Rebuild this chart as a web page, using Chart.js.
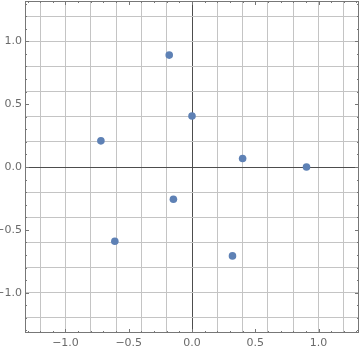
<!DOCTYPE html>
<html>
<head>
<meta charset="utf-8">
<script src="https://cdn.jsdelivr.net/npm/chart.js@4.4.1/dist/chart.umd.min.js"></script>
<style>
  html, body { margin: 0; padding: 0; background: #fff; }
  #wrap { width: 360px; height: 353px; }
</style>
</head>
<body>
<div id="wrap"><canvas id="chart"></canvas></div>
<script>
// point coordinates
const xValues = [-0.18, 0.0, -0.72, 0.40, 0.905, -0.147, -0.61, 0.32];
const yValues = [0.89, 0.405, 0.208, 0.068, 0.0, -0.256, -0.59, -0.707];
const axisMin = -1.32;
const axisMax = 1.32;
const labelValues = [-1.0, -0.5, 0.0, 0.5, 1.0];

const points = xValues.map((x, i) => ({ x: x, y: yValues[i] }));

// one tick every 0.1, grid only on every 0.2, labels on every 0.5
const tenths = [];
for (let i = -13; i <= 13; i++) tenths.push(i / 10);

const isMultiple = (v, step) => Math.abs(v / step - Math.round(v / step)) < 1e-6;
const fmt = v => v.toFixed(1).replace('-', '\u2212');

const gridColor = ctx => {
    const v = ctx.tick ? ctx.tick.value : 0;
    if (Math.abs(v) < 1e-9) return '#4d4d4d';
    if (isMultiple(v, 0.2)) return '#c4c4c4';
    return 'rgba(0,0,0,0)';
};

const scaleOpts = (isX) => ({
    type: 'linear',
    min: axisMin,
    max: axisMax,
    afterBuildTicks: scale => {
        scale.ticks = tenths.map(v => ({ value: v }));
    },
    afterFit: scale => {
        if (isX) scale.height = 20;
        else scale.width = 25;
        // no extra room for the end labels
        scale.paddingLeft = 0;
        scale.paddingRight = 0;
        scale.paddingTop = 0;
        scale.paddingBottom = 0;
    },
    border: { display: false },
    grid: {
        color: gridColor,
        lineWidth: 1,
        drawTicks: false
    },
    ticks: {
        autoSkip: false,
        maxRotation: 0,
        padding: isX ? 4 : 3,
        color: '#6a6a6a',
        font: { family: 'DejaVu Sans', size: 11 },
        callback: v => labelValues.some(l => Math.abs(l - v) < 1e-6) ? fmt(v) : ''
    }
});

// Mathematica-style frame with inward ticks
const framePlugin = {
    id: 'frame',
    afterDraw(chart) {
        const { ctx, chartArea: a, scales } = chart;
        ctx.save();
        ctx.strokeStyle = '#777';
        ctx.lineWidth = 1;
        ctx.strokeRect(a.left + 0.5, a.top + 0.5, a.right - a.left - 1, a.bottom - a.top - 1);
        ctx.beginPath();
        tenths.forEach(v => {
            const len = isMultiple(v, 0.5) ? 4 : 2;
            const px = Math.round(scales.x.getPixelForValue(v)) + 0.5;
            ctx.moveTo(px, a.bottom); ctx.lineTo(px, a.bottom - len);
            ctx.moveTo(px, a.top); ctx.lineTo(px, a.top + len);
            const py = Math.round(scales.y.getPixelForValue(v)) + 0.5;
            ctx.moveTo(a.left, py); ctx.lineTo(a.left + len, py);
            ctx.moveTo(a.right, py); ctx.lineTo(a.right - len, py);
        });
        ctx.stroke();
        ctx.restore();
    }
};

new Chart(document.getElementById('chart'), {
    type: 'scatter',
    data: {
        datasets: [{
            data: points,
            backgroundColor: '#5e81b5',
            borderColor: '#5e81b5',
            pointRadius: 3.8,
            pointHoverRadius: 3.8,
            borderWidth: 0
        }]
    },
    options: {
        responsive: true,
        maintainAspectRatio: false,
        animation: false,
        layout: { autoPadding: false, padding: { top: 1, right: 1, left: 0, bottom: 0 } },
        plugins: {
            legend: { display: false },
            tooltip: { enabled: false }
        },
        scales: {
            x: scaleOpts(true),
            y: scaleOpts(false)
        }
    },
    plugins: [framePlugin]
});
</script>
</body>
</html>
